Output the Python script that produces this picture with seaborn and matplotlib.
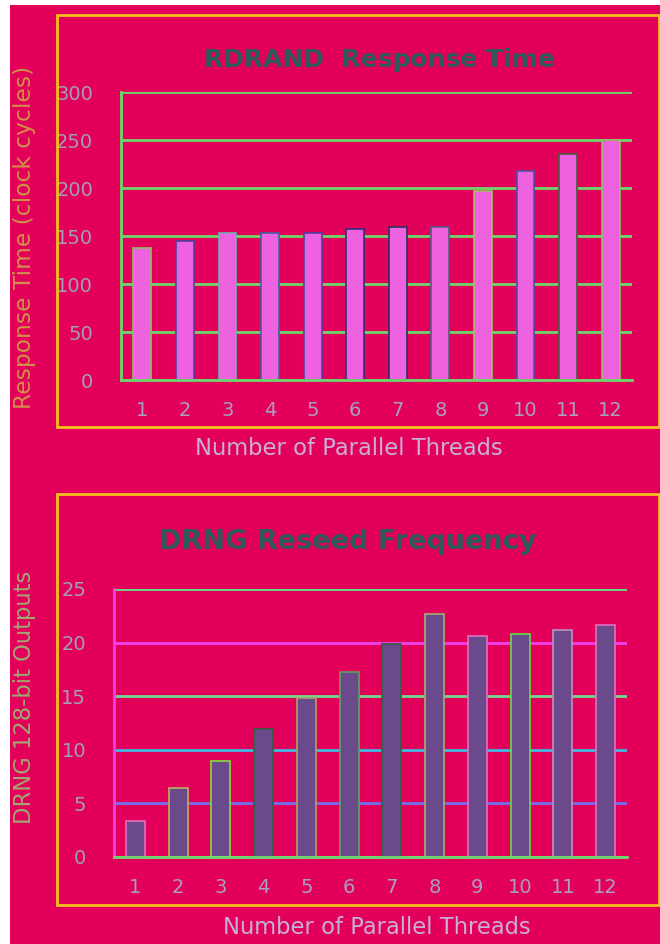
import matplotlib
matplotlib.use("Agg")
import matplotlib.pyplot as plt
from matplotlib.patches import Rectangle
import seaborn as sns
import pandas as pd

# ---- data ----
threads = ["1", "2", "3", "4", "5", "6", "7", "8", "9", "10", "11", "12"]
response_cycles = [138, 145, 153, 153, 153, 157, 159, 159, 197, 218, 235, 250]
reseed_outputs = [3.4, 6.4, 9.0, 11.9, 14.8, 17.3, 19.9, 22.7, 20.6, 20.8, 21.2, 21.6]
top_yticks = [0, 50, 100, 150, 200, 250, 300]
bot_yticks = [0, 5, 10, 15, 20, 25]

title_top = "RDRAND  Response Time"
title_bot = "DRNG Reseed Frequency"
ylabel_top = "Response Time (clock cycles)"
ylabel_bot = "DRNG 128-bit Outputs"
xlabel = "Number of Parallel Threads"

sns.set_theme(style="white")
plt.rcParams["font.family"] = ["DejaVu Sans"]

W, H = 660, 944
BG = "#E2005A"
fig = plt.figure(figsize=(W / 100, H / 100), dpi=100, facecolor=BG)

# white margins on left/top
fig.add_artist(Rectangle((0, 0), 10 / W, 1, transform=fig.transFigure,
                         facecolor="white", edgecolor="none", zorder=0))
fig.add_artist(Rectangle((0, 1 - 5 / H), 1, 5 / H, transform=fig.transFigure,
                         facecolor="white", edgecolor="none", zorder=0))


def px_box(x0, y0, x1, y1):
    return [x0 / W, 1 - y1 / H, (x1 - x0) / W, (y1 - y0) / H]


# outer chart boxes
for (y0, y1) in [(15, 427), (494, 905)]:
    fig.add_artist(Rectangle((57 / W, 1 - y1 / H), (659 - 57) / W, (y1 - y0) / H,
                             transform=fig.transFigure, facecolor="none",
                             edgecolor="#F2C21A", linewidth=2, zorder=1))


def style_axes(ax, yticks, grid_colors, xcol, ycol, ylim):
    ax.set_facecolor(BG)
    ax.set_xlim(-0.5, len(threads) - 0.5)
    ax.set_ylim(*ylim)
    ax.set_yticks(yticks)
    ax.set_xticks(range(len(threads)))
    ax.set_xticklabels(threads)
    ax.set_xticks([i - 0.5 for i in range(len(threads) + 1)], minor=True)
    ax.tick_params(axis="x", which="major", length=0, pad=15, labelsize=14,
                   labelcolor="#A8A0C0")
    ax.tick_params(axis="x", which="minor", length=8, width=1.6, color=xcol,
                   direction="out")
    ax.tick_params(axis="y", length=7, width=1.6, color=xcol, pad=13,
                   labelsize=14, labelcolor="#A0A0B8", direction="out")
    ax.yaxis.grid(True, linewidth=2)
    for gl, c in zip(ax.get_ygridlines(), grid_colors):
        gl.set_color(c)
        gl.set_linewidth(2)
    ax.set_axisbelow(True)
    for s in ["top", "right"]:
        ax.spines[s].set_visible(False)
    ax.spines["bottom"].set_color(xcol)
    ax.spines["bottom"].set_linewidth(2)
    ax.spines["left"].set_color(ycol)
    ax.spines["left"].set_linewidth(2)
    ax.set_xlabel("")
    ax.set_ylabel("")


# ---- top chart ----
ax1 = fig.add_axes(px_box(121, 92, 632, 380))
df1 = pd.DataFrame({"threads": threads, "cycles": response_cycles})
sns.barplot(data=df1, x="threads", y="cycles", ax=ax1, color="#EE62E0",
            saturation=1, width=0.42, edgecolor="#5A4C8C", linewidth=1.2)
edge_top = ["#90C060", "#5040A0", "#70B0B0", "#4060A0", "#5040A0", "#303080",
            "#303060", "#506080", "#A0C060", "#5050A0", "#406040", "#90C060"]
for p, ec in zip(ax1.patches, edge_top):
    p.set_edgecolor(ec)
style_axes(ax1, top_yticks, ["#6AD86A"] * 7, "#6AD86A", "#6AD86A", (0, 300))

fig.text(379 / W, 1 - 60 / H, title_top, ha="center", va="center",
         fontsize=18, fontweight="bold", color="#2E5A58")
fig.text(25 / W, 1 - 237 / H, ylabel_top, ha="center", va="center",
         rotation=90, fontsize=16.8, color="#D09048")
fig.text(349 / W, 1 - 448 / H, xlabel, ha="center", va="center",
         fontsize=16.3, color="#C8B0D8")

# ---- bottom chart ----
ax2 = fig.add_axes(px_box(114, 589, 627, 857))
df2 = pd.DataFrame({"threads": threads, "outputs": reseed_outputs})
sns.barplot(data=df2, x="threads", y="outputs", ax=ax2, color="#6A4A8A",
            saturation=1, width=0.45, edgecolor="#3E6A4A", linewidth=1.2)
edge_bot = ["#E070C0", "#C0B060", "#80E040", "#306040", "#B0A060", "#60A060",
            "#306040", "#A0B070", "#E070C0", "#60E040", "#C090C0", "#E070C0"]
for p, ec in zip(ax2.patches, edge_bot):
    p.set_edgecolor(ec)
style_axes(ax2, bot_yticks,
           ["#70D870", "#7070F0", "#40B8E0", "#70D890", "#F040F0", "#60E080"],
           "#70D870", "#F040E8", (0, 25))

fig.text(348 / W, 1 - 542 / H, title_bot, ha="center", va="center",
         fontsize=19.5, fontweight="bold", color="#2E5A58")
fig.text(25 / W, 1 - 697 / H, ylabel_bot, ha="center", va="center",
         rotation=90, fontsize=16.3, color="#A0A870")
fig.text(377 / W, 1 - 927 / H, xlabel, ha="center", va="center",
         fontsize=16.3, color="#C8B0D8")

fig.savefig("out.png", dpi=100, facecolor=BG)
